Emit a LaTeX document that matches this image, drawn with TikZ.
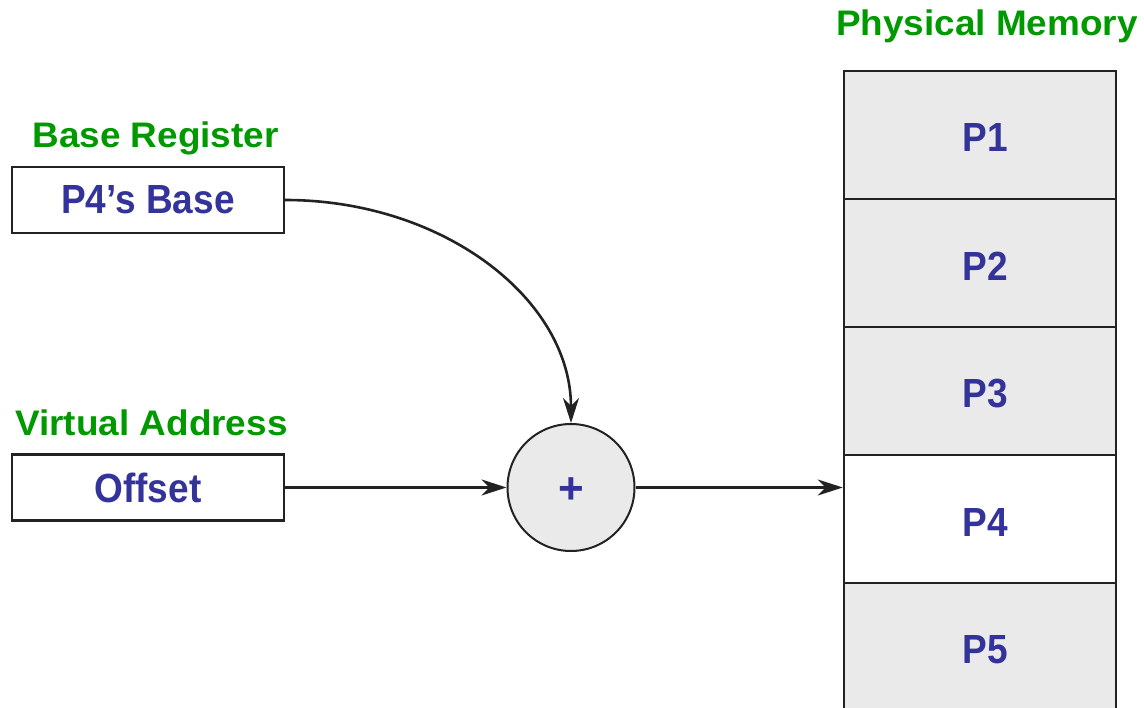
\documentclass[tikz,border=0pt]{standalone}
\usepackage{fontspec}
\usepackage{graphicx}
\setmainfont{Liberation Sans}
\usetikzlibrary{arrows.meta}
\definecolor{labelgreen}{RGB}{0,153,0}
\definecolor{textblue}{RGB}{51,51,153}
\definecolor{cellgray}{RGB}{234,234,234}
\definecolor{linegray}{RGB}{34,34,34}
% headings are set a touch wide, box labels a touch tall
\newcommand{\widelabel}[1]{\scalebox{1.04}[1]{#1}}
\newcommand{\talllabel}[1]{\scalebox{1}[1.1]{#1}}
\tikzset{
  headfont/.style={font=\fontsize{35.5}{40}\selectfont\bfseries},
  boxfont/.style={font=\fontsize{37}{42}\selectfont\bfseries},
  title/.style={headfont, text=labelgreen, inner sep=0pt, anchor=base},
  regbox/.style={draw=linegray, line width=2.2pt, fill=white, minimum width=272pt, minimum height=66pt, inner sep=0pt, boxfont, text=textblue},
  cell/.style={draw=linegray, line width=2.5pt, fill=cellgray, minimum width=272pt, minimum height=128pt, inner sep=0pt},
  celltext/.style={boxfont, text=textblue, inner sep=0pt},
  adder/.style={circle, draw=linegray, line width=2pt, fill=cellgray, minimum size=127pt, inner sep=0pt},
  arr/.style={draw=linegray, line width=2.6pt, -{Stealth[length=25pt,width=16pt,inset=8pt]}},
}
\begin{document}
\begin{tikzpicture}[x=1pt,y=-1pt]
  \useasboundingbox (0,0) rectangle (1144,708);
  \clip (0,0) rectangle (1144,708);

  % registers on the left
  \node[title] (basetitle) at (155.5,147.7) {\widelabel{Base Register}};
  \node[regbox] (base) at (148,200) {\talllabel{P4’s Base}};
  \node[title] (vatitle) at (151.5,435.7) {\widelabel{Virtual Address}};
  \node[regbox] (offset) at (148,487.5) {\talllabel{Offset}};

  % adder
  \node[adder] (sum) at (571,487.5) {};
  \node[font=\fontsize{44}{44}\selectfont\bfseries, text=textblue, inner sep=0pt] (plus) at (571.3,491) {+};

  % physical memory column
  \node[title] (memtitle) at (987,35.7) {\widelabel{Physical Memory}};
  \node[cell] (m1) at (980,135) {};
  \node[cell] (m2) at (980,263) {};
  \node[cell] (m3) at (980,391) {};
  \node[cell, fill=white] (m4) at (980,519) {};
  \node[cell] (m5) at (980,647) {};
  \node[celltext] (l1) at ([shift={(5,3)}]m1.center) {\talllabel{P1}};
  \node[celltext] (l2) at ([shift={(5,3)}]m2.center) {\talllabel{P2}};
  \node[celltext] (l3) at ([shift={(5,3)}]m3.center) {\talllabel{P3}};
  \node[celltext] (l4) at ([shift={(5,3)}]m4.center) {\talllabel{P4}};
  \node[celltext] (l5) at ([shift={(5,3)}]m5.center) {\talllabel{P5}};

  % connectors
  \draw[arr] (base.east) .. controls +(158,0) and +(0,-124) .. (sum.north);
  \draw[arr] (offset.east) -- (sum.west);
  \draw[arr] (sum.east) -- (sum.east -| m4.west);
\end{tikzpicture}
\end{document}
